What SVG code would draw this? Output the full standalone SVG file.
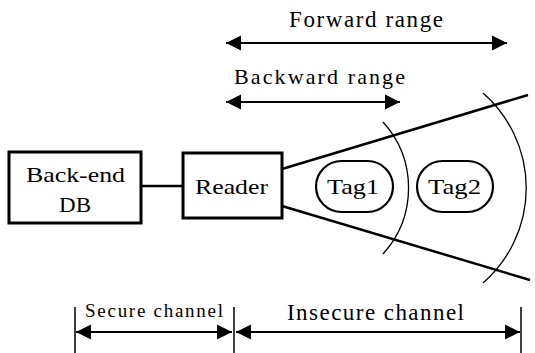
<svg xmlns="http://www.w3.org/2000/svg" width="535" height="353" viewBox="0 0 535 353">
<style>
.box{fill:#fff;stroke:#000;stroke-width:3}
.tag{fill:#fff;stroke:#000;stroke-width:2.2}
.ln{stroke:#000;stroke-width:2.5;fill:none}
.arr{stroke:#000;stroke-width:2;fill:none;marker-start:url(#ah);marker-end:url(#ah)}
.arc{stroke:#000;stroke-width:1.3;fill:none}
.tick{stroke:#000;stroke-width:1.5}
</style>
<defs>
<marker id="ah" markerUnits="userSpaceOnUse" markerWidth="16" markerHeight="16" viewBox="0 0 16 16" refX="15" refY="8" orient="auto-start-reverse">
<path d="M0,0.5 L15,8 L0,15.5 Z" fill="#000"/>
</marker>
</defs>
<g id="connectors">
<line class="ln" x1="141" y1="186" x2="183" y2="186"/>
<line class="ln" x1="282" y1="169" x2="528" y2="95"/>
<line class="ln" x1="282" y1="206" x2="530" y2="280"/>
<path class="arc" d="M383 122 A98 98 0 0 1 383 254"/>
<path class="arc" d="M483 93 A126 126 0 0 1 483 283"/>
</g>
<g font-family="Liberation Serif, DejaVu Serif, serif" fill="#000">
<g id="forward-range">
<line class="arr" x1="226" y1="43" x2="507" y2="43"/>
<text x="289" y="27" font-size="23" textLength="154" lengthAdjust="spacing">Forward range</text>
</g>
<g id="backward-range">
<line class="arr" x1="226" y1="102" x2="400" y2="102"/>
<text x="234" y="84" font-size="22" textLength="171" lengthAdjust="spacing">Backward range</text>
</g>
<g id="backend-db">
<rect class="box" x="9" y="152" width="132" height="71"/>
<text x="26" y="182" font-size="22" textLength="99" lengthAdjust="spacingAndGlyphs">Back-end</text>
<text x="59" y="212" font-size="22" textLength="32" lengthAdjust="spacingAndGlyphs">DB</text>
</g>
<g id="reader">
<rect class="box" x="183" y="153" width="99" height="65"/>
<text x="195" y="194" font-size="22" textLength="73" lengthAdjust="spacingAndGlyphs">Reader</text>
</g>
<g id="tag1">
<rect class="tag" x="316" y="161" width="77" height="51" rx="25.5"/>
<text x="327" y="194" font-size="22" textLength="52" lengthAdjust="spacingAndGlyphs">Tag1</text>
</g>
<g id="tag2">
<rect class="tag" x="417" y="161" width="76" height="51" rx="25.5"/>
<text x="428" y="194" font-size="22" textLength="53" lengthAdjust="spacingAndGlyphs">Tag2</text>
</g>
<g id="channels">
<line class="tick" x1="75" y1="307" x2="75" y2="353"/>
<line class="tick" x1="234" y1="307" x2="234" y2="353"/>
<line class="tick" x1="521" y1="307" x2="521" y2="353"/>
<line class="arr" x1="76" y1="332" x2="232" y2="332"/>
<line class="arr" x1="236" y1="332" x2="520" y2="332"/>
<text x="85" y="317" font-size="19" textLength="138" lengthAdjust="spacing">Secure channel</text>
<text x="287" y="320" font-size="23" textLength="177" lengthAdjust="spacing">Insecure channel</text>
</g>
</g>
</svg>
